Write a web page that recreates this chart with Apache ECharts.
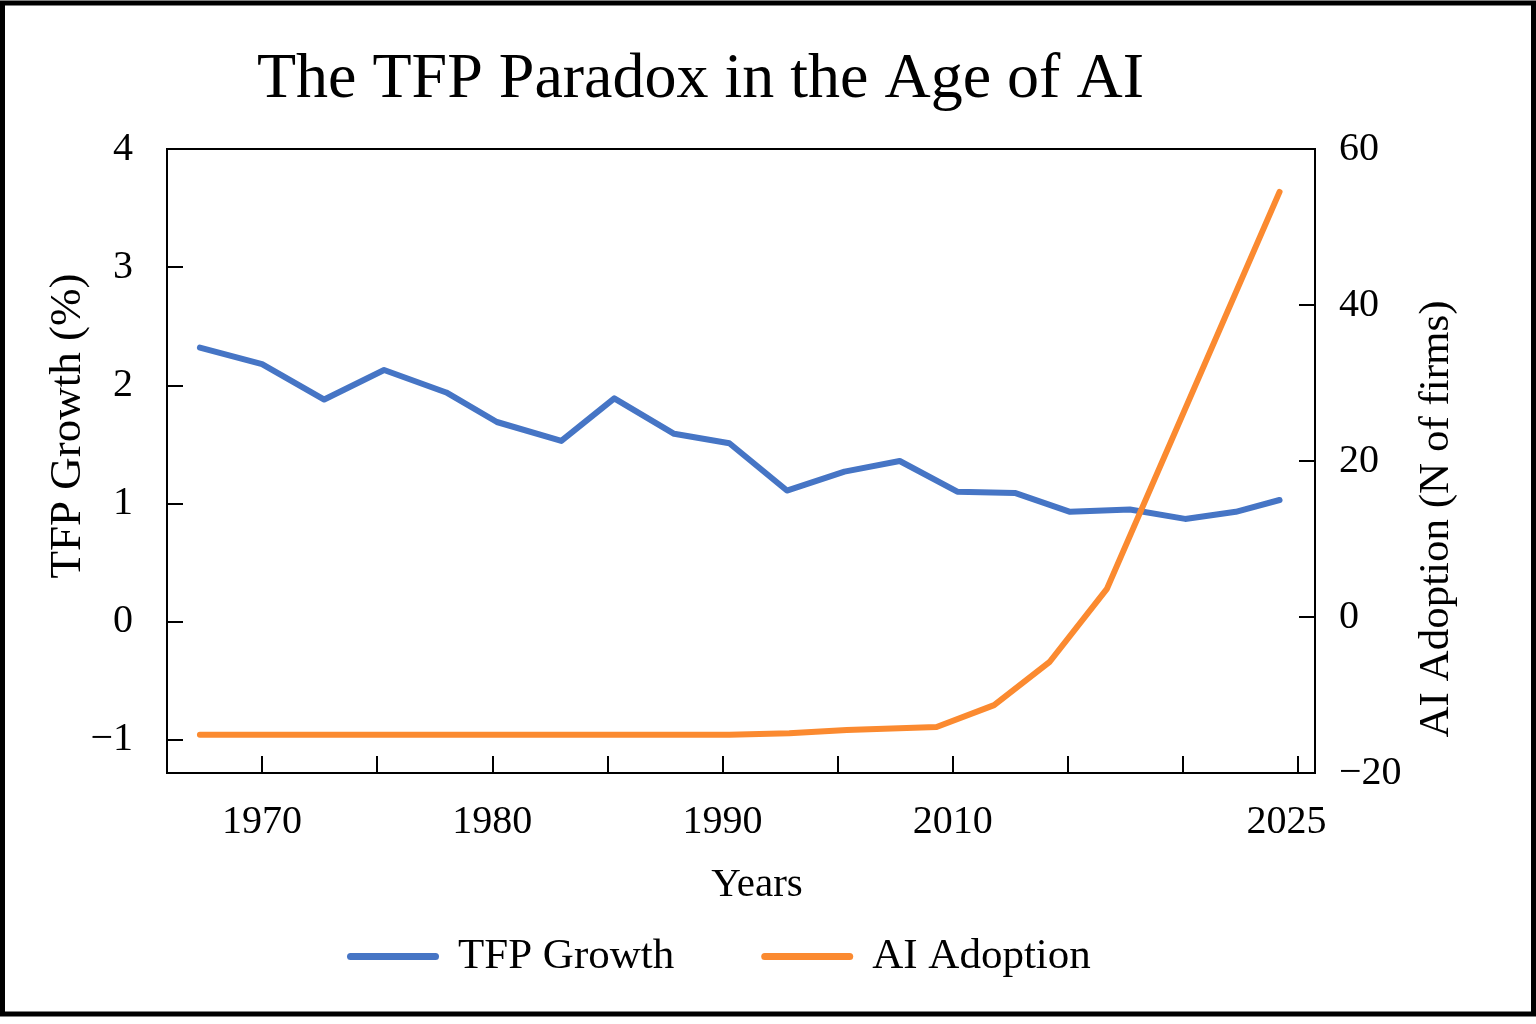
<!DOCTYPE html>
<html>
<head>
<meta charset="utf-8">
<script src="https://cdn.jsdelivr.net/npm/echarts@6/dist/echarts.min.js"></script>
<style>
html,body{margin:0;padding:0;background:#fff;}
#chart{width:1536px;height:1024px;}
</style>
</head>
<body>
<div id="chart"></div>
<script>
// ---- data ----
var tfpYears = [1967.3, 1970.0, 1972.7, 1975.3, 1978.0, 1980.2, 1983.0, 1985.3, 1987.9, 1990.3,
                1992.8, 1995.3, 1997.7, 2000.2, 2002.7, 2005.1, 2007.7, 2010.1, 2012.3, 2014.2];
var tfpGrowth = [2.32, 2.18, 1.88, 2.13, 1.94, 1.69, 1.53, 1.89, 1.59, 1.51,
                 1.11, 1.27, 1.36, 1.10, 1.09, 0.93, 0.95, 0.87, 0.93, 1.03];
var aiYears = [1967.3, 1990.3, 1992.9, 1995.4, 1999.3, 2001.8, 2004.2, 2006.7, 2014.2];
var aiAdoption = [-15.1, -15.1, -14.9, -14.5, -14.1, -11.3, -5.8, 3.6, 54.5];
var xTickValues = [1970, 1975, 1980, 1985, 1990, 1995, 2000, 2005, 2010, 2015];
var xLabelValues = [1970, 1980, 1990, 2000, 2014.5];
var xLabelTexts = ['1970', '1980', '1990', '2010', '2025'];
var leftTicks = [-1, 0, 1, 2, 3, 4];

var FONT = "'Liberation Serif', 'DejaVu Serif', serif";
var BLUE = '#4675C5';
var ORANGE = '#FB8A30';

function minus(v){ return String(v).replace('-', '\u2212'); }
function pairs(xs, ys){ return xs.map(function(x,i){ return [x, ys[i]]; }); }

var chart = echarts.init(document.getElementById('chart'));
chart.setOption({
  backgroundColor: '#fff',
  animation: false,
  graphic: [{
    type: 'rect', z: 100,
    shape: {x: 2.5, y: 3, width: 1531, height: 1011},
    style: {fill: 'none', stroke: '#000', lineWidth: 5}
  }],
  title: {
    text: 'The TFP Paradox in the Age of AI',
    left: 252, top: 43,
    textStyle: {fontFamily: FONT, fontSize: 64, fontWeight: 'normal', color: '#000'}
  },
  legend: {
    left: 342, top: 930,
    itemWidth: 92, itemHeight: 7, itemGap: 87,
    icon: 'path://M3.5,0 L88.5,0 A3.5,3.5 0 0 1 88.5,7 L3.5,7 A3.5,3.5 0 0 1 3.5,0 Z',
    textStyle: {fontFamily: FONT, fontSize: 43, color: '#000', padding: [0, 0, 0, 14]},
    data: ['TFP Growth', 'AI Adoption']
  },
  grid: {
    left: 167, right: 221, top: 149, bottom: 251,
    show: true, borderColor: '#000', borderWidth: 2, containLabel: false
  },
  xAxis: {
    type: 'value', min: 1965.87, max: 2015.74,
    name: 'Years', nameLocation: 'middle', nameGap: 92, nameMoveOverlap: false,
    nameTextStyle: {fontFamily: FONT, fontSize: 41, color: '#000', padding: [0, 0, 0, 32]},
    axisLine: {show: true, onZero: false, lineStyle: {color: '#000', width: 2}},
    axisTick: {show: true, inside: true, length: 17, customValues: xTickValues, lineStyle: {color: '#000', width: 2}},
    axisLabel: {
      customValues: xLabelValues, margin: 29,
      fontFamily: FONT, fontSize: 40, color: '#000',
      formatter: function(v){ var i = xLabelValues.indexOf(v); return i >= 0 ? xLabelTexts[i] : ''; }
    },
    splitLine: {show: false}
  },
  yAxis: [{
    type: 'value', position: 'left', min: -1.28, max: 4,
    name: 'TFP Growth (%)', nameLocation: 'middle', nameRotate: 90, nameGap: 76, nameMoveOverlap: false,
    nameTextStyle: {fontFamily: FONT, fontSize: 45, color: '#000', padding: [0, 0, 0, 70]},
    axisLine: {show: true, onZero: false, lineStyle: {color: '#000', width: 2}},
    axisTick: {show: true, inside: true, length: 16, customValues: leftTicks, lineStyle: {color: '#000', width: 2}},
    axisLabel: {customValues: leftTicks, margin: 34, fontFamily: FONT, fontSize: 40, color: '#000', formatter: minus},
    splitLine: {show: false}
  }, {
    type: 'value', position: 'right', min: -20, max: 60, interval: 20,
    name: 'AI Adoption (N of firms)', nameLocation: 'middle', nameRotate: 90, nameGap: 100,
    nameTextStyle: {fontFamily: FONT, fontSize: 43, color: '#000', padding: [0, 116, 0, 0]},
    axisLine: {show: true, onZero: false, lineStyle: {color: '#000', width: 2}},
    axisTick: {show: true, inside: true, length: 16, lineStyle: {color: '#000', width: 2}},
    axisLabel: {margin: 24, fontFamily: FONT, fontSize: 40, color: '#000', formatter: minus},
    splitLine: {show: false}
  }],
  series: [{
    name: 'TFP Growth', type: 'line', yAxisIndex: 0,
    data: pairs(tfpYears, tfpGrowth),
    showSymbol: false, symbol: 'none',
    itemStyle: {color: BLUE},
    lineStyle: {color: BLUE, width: 6, cap: 'round', join: 'round'}
  }, {
    name: 'AI Adoption', type: 'line', yAxisIndex: 1,
    data: pairs(aiYears, aiAdoption),
    showSymbol: false, symbol: 'none',
    itemStyle: {color: ORANGE},
    lineStyle: {color: ORANGE, width: 6, cap: 'round', join: 'round'}
  }]
});
</script>
</body>
</html>
